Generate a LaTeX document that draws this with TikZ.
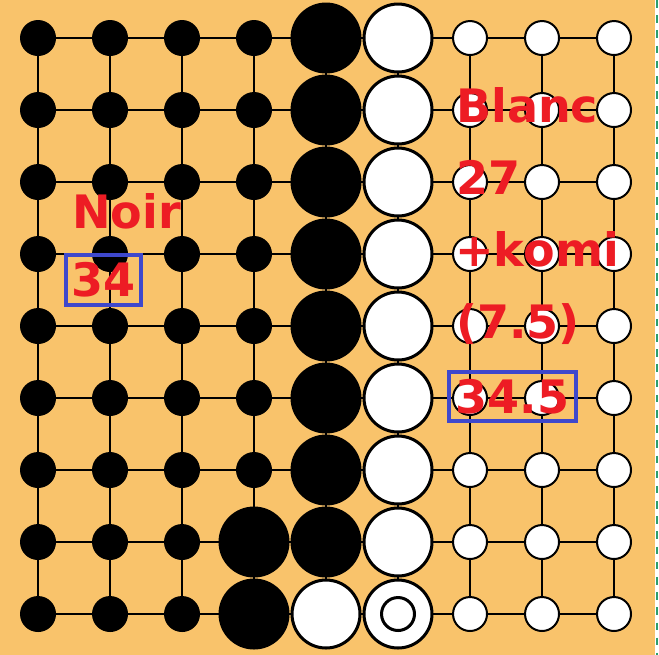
\documentclass[tikz,border=0pt]{standalone}
\usepackage{fontspec}
\setmainfont{DejaVu Sans}
\usetikzlibrary{positioning}
\definecolor{goban}{HTML}{F9C36B}
\definecolor{scorered}{HTML}{ED1C24}
\definecolor{scoreblue}{HTML}{3F48CC}
\definecolor{edgegreen}{HTML}{2E9E6E}

\begin{document}
\begin{tikzpicture}[x=1cm, y=-1cm,
  gridline/.style={line width=0.79pt, black},
  blacksmall/.style={circle, fill=black, inner sep=0pt, minimum size=0.5cm},
  whitesmall/.style={circle, draw=black, line width=0.79pt, fill=white, inner sep=0pt, minimum size=0.472cm},
  blackbig/.style={circle, fill=black, inner sep=0pt, minimum size=0.986cm},
  whitebig/.style={circle, draw=black, line width=1.19pt, fill=white, inner sep=0pt, minimum size=0.944cm},
  lastmove/.style={circle, draw=black, line width=1.19pt, inner sep=0pt, minimum size=0.458cm},
  score/.style={font=\fontsize{18.2}{20}\selectfont\bfseries, text=scorered, inner sep=0pt},
  total/.style={score, draw=scoreblue, line width=1.58pt}
]
  \useasboundingbox (-0.528,-0.528) rectangle (8.625,8.569);

  % Board
  \fill[goban] (-0.528,-0.528) rectangle (8.569,8.569);
  \draw[edgegreen, dashed, line width=0.4pt] (8.597,-0.528) -- (8.597,8.569);

  % Grid
  \foreach \k in {0,...,8} {
    \draw[gridline] (0,\k) -- (8,\k);
    \draw[gridline] (\k,0) -- (\k,8);
  }

  % Black stones
  \foreach \i in {0,...,3}
    \foreach \j in {0,...,6}
      \node[blacksmall] (s-\i-\j) at (\i,\j) {};
  \foreach \i in {0,...,2}
    \foreach \j in {7,8}
      \node[blacksmall] (s-\i-\j) at (\i,\j) {};
  \foreach \j in {7,8}
    \node[blackbig] (s-3-\j) at (3,\j) {};
  \foreach \j in {0,...,7}
    \node[blackbig] (s-4-\j) at (4,\j) {};

  % White stones
  \node[whitebig] (s-4-8) at (4,8) {};
  \foreach \j in {0,...,8}
    \node[whitebig] (s-5-\j) at (5,\j) {};
  \node[lastmove] (last) at (s-5-8) {};
  \foreach \i in {6,7,8}
    \foreach \j in {0,...,8}
      \node[whitesmall] (s-\i-\j) at (\i,\j) {};

  % Black count
  \node[score, anchor=base west] (noir) at (0.47,2.639) {Noir};
  \node[total, minimum width=1.04cm, minimum height=0.694cm] (noirtotal) at (0.91,3.36) {34};

  % White count
  \node[score, anchor=base west] (blanc) at (5.80,1.18) {Blanc};
  \node[score, anchor=base west] (prises) at (5.80,2.18) {27};
  \node[score, anchor=base west] (komi) at (5.79,3.18) {+komi};
  \node[score, anchor=base west] (komival) at (5.80,4.18) {(7.5)};
  \node[total, minimum width=1.764cm, minimum height=0.68cm] (blanctotal) at (6.59,4.98) {34.5};
\end{tikzpicture}
\end{document}
